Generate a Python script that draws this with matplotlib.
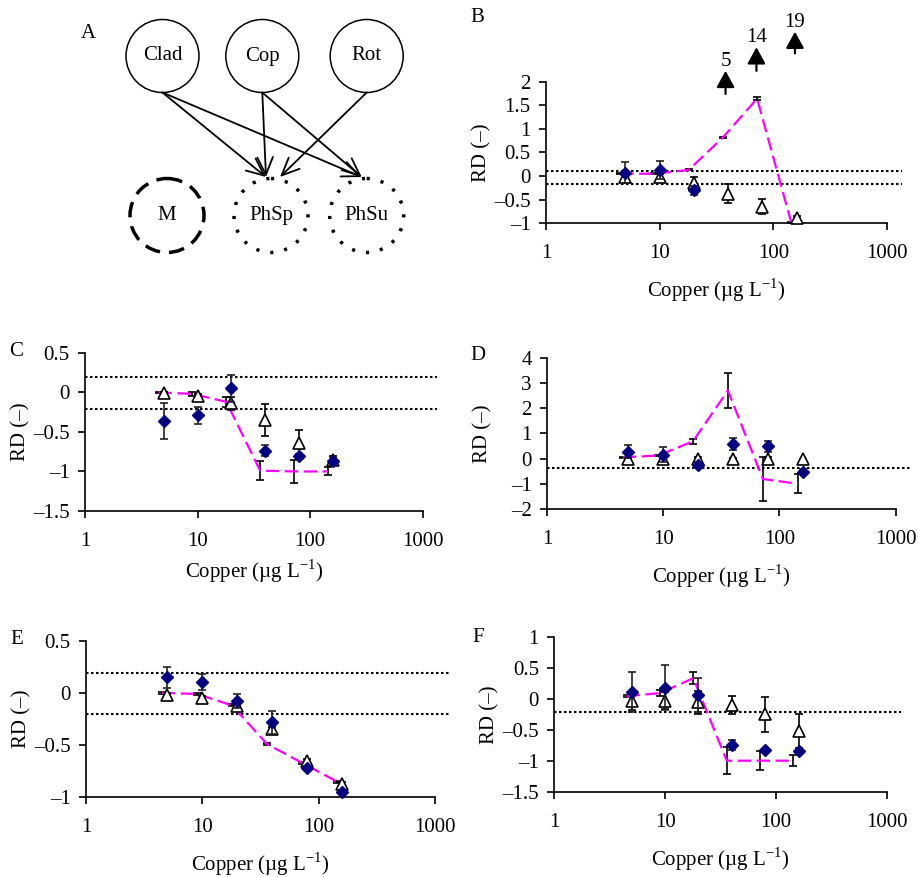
import matplotlib
matplotlib.use('Agg')
import numpy as np
import matplotlib.pyplot as plt
from matplotlib.patches import Circle
from matplotlib.ticker import FuncFormatter, FixedLocator, NullLocator

plt.rcParams['font.family'] = ['Liberation Serif', 'DejaVu Serif']
plt.rcParams['font.size'] = 15
plt.rcParams['mathtext.fontset'] = 'custom'
plt.rcParams['mathtext.rm'] = 'Liberation Serif'

# Concentraciones de cobre (ug/L)
cobre = [5, 10, 20, 40, 80, 160]
cobre_linea = [4.5, 9, 18, 36, 72, 144]

# Panel A: nodos del diagrama
nodos_arriba = ['Clad', 'Cop', 'Rot']
nodos_abajo = ['M', 'PhSp', 'PhSu']
enlaces = [('Clad', 'PhSp'), ('Clad', 'PhSu'), ('Cop', 'PhSp'), ('Cop', 'PhSu'), ('Rot', 'PhSp')]

# Panel B
diam_b = [0.07, 0.13, -0.30, 5, 14, 19]
diam_b_err = [0.22, 0.20, 0.10, 0, 0, 0]
tri_b = [-0.02, -0.02, -0.14, -0.37, -0.65, -0.89]
tri_b_err = [0.06, 0.06, 0.12, 0.20, 0.16, 0.05]
linea_b = [0.05, 0.05, 0.13, 0.82, 1.64, -0.99]
linea_b_err = [0.01, 0.01, 0.01, 0.01, 0.03, 0.01]
limites_b = [0.11, -0.16]
flechas_b_x = [38, 71, 155]
flechas_b_txt = ['5', '14', '19']

# Panel C
diam_c = [-0.36, -0.29, 0.05, -0.74, -0.81, -0.87]
diam_c_err = [0.23, 0.11, 0.17, 0.07, 0.03, 0.05]
tri_c = [-0.01, -0.05, -0.14, -0.35, -0.64, -0.86]
tri_c_err = [0.02, 0.03, 0.08, 0.20, 0.16, 0.05]
linea_c = [0.0, -0.02, -0.12, -0.99, -1.0, -1.0]
linea_c_err = [0.01, 0.02, 0.06, 0.12, 0.14, 0.05]
limites_c = [0.20, -0.21]

# Panel D
diam_d = [0.28, 0.15, -0.25, 0.58, 0.48, -0.52]
diam_d_err = [0.24, 0.30, 0.10, 0.25, 0.23, 0.10]
tri_d = [-0.03, -0.03, -0.02, 0.0, 0.0, -0.02]
tri_d_err = [0.05, 0.10, 0.10, 0.02, 0.05, 0.02]
linea_d = [0.05, 0.12, 0.68, 2.70, -0.81, -1.0]
linea_d_err = [0.02, 0.03, 0.10, 0.68, 0.86, 0.37]
limites_d = [-0.36]

# Panel E
diam_e = [0.15, 0.105, -0.08, -0.28, -0.72, -0.95]
diam_e_err = [0.10, 0.08, 0.065, 0.11, 0.02, 0.01]
tri_e = [-0.02, -0.05, -0.13, -0.35, -0.65, -0.87]
tri_e_err = [0.02, 0.02, 0.02, 0.02, 0.02, 0.02]
linea_e = [0.0, -0.01, -0.12, -0.49, -0.67, -0.85]
linea_e_err = [0.01, 0.01, 0.01, 0.01, 0.01, 0.01]
limites_e = [0.19, -0.20]

# Panel F
diam_f = [0.12, 0.19, 0.07, -0.74, -0.82, -0.83]
diam_f_err = [0.32, 0.36, 0.28, 0.08, 0.02, 0.03]
tri_f = [-0.02, -0.02, -0.05, -0.09, -0.24, -0.51]
tri_f_err = [0.16, 0.14, 0.18, 0.15, 0.28, 0.28]
linea_f = [0.05, 0.10, 0.34, -0.99, -0.99, -0.99]
linea_f_err = [0.02, 0.05, 0.10, 0.22, 0.15, 0.09]
limites_f = [-0.20]

W, H = 918, 877
fig = plt.figure(figsize=(W / 100, H / 100), dpi=100)


def caja(x0, y0, x1, y1):
    # convierte pixeles (arriba-izquierda) a fraccion de figura
    return [x0 / W, 1 - y1 / H, (x1 - x0) / W, (y1 - y0) / H]


def formato(v, pos):
    return ('%g' % v).replace('-', '\u2013')


def en_escala(valores, ylim):
    # los valores fuera de escala no se dibujan (se marcan con flechas)
    v = np.array(valores, dtype=float)
    return np.where((v > ylim[1]) | (v < ylim[0]), np.nan, v)


def generar_panel(caja_px, diam, diam_err, tri, tri_err, linea, linea_err,
                  limites, ylim, yticks, letra, letra_xy, xlabel_off=67):
    x0, y0, x1, y1 = caja_px
    ax = fig.add_axes(caja(x0, y0, x1, y1))
    ax.set_xscale('log')
    ax.set_xlim(1, 1000)
    ax.set_ylim(*ylim)

    # lineas punteadas de referencia
    for lv in limites:
        ax.plot([1, 1350], [lv, lv], color='black', lw=1.5, ls=(0, (1.2, 1.2)),
                clip_on=False, zorder=1)

    ax.errorbar(cobre_linea, en_escala(linea, ylim), yerr=linea_err, color='#FF00FF',
                lw=1.6, dashes=(6, 2.5), ecolor='black', elinewidth=1.2, capsize=3,
                capthick=1.2, zorder=2)
    eb = ax.errorbar(cobre, en_escala(tri, ylim), yerr=tri_err, fmt='^', ms=8,
                     mfc='white', mec='black', mew=1.2, ecolor='black', elinewidth=1.2,
                     capsize=3, capthick=1.2, zorder=3)
    eb[0].set_clip_on(False)
    eb = ax.errorbar(cobre, en_escala(diam, ylim), yerr=diam_err, fmt='D', ms=6.5,
                     mfc='#000080', mec='#000080', ecolor='#222222', elinewidth=1.2,
                     capsize=3, capthick=1.2, zorder=4)
    eb[0].set_clip_on(False)

    for lado in ['top', 'right']:
        ax.spines[lado].set_visible(False)
    for lado in ['left', 'bottom']:
        ax.spines[lado].set_linewidth(1.2)
    ax.xaxis.set_major_locator(FixedLocator([1, 10, 100, 1000]))
    ax.xaxis.set_minor_locator(NullLocator())
    ax.set_xticklabels(['1', '10', '100', '1000'])
    ax.set_yticks(yticks)
    ax.yaxis.set_major_formatter(FuncFormatter(formato))
    ax.tick_params(axis='both', direction='out', length=5, width=1.2)
    ax.tick_params(axis='x', pad=10)
    ax.tick_params(axis='y', pad=6)

    ancho = x1 - x0
    alto = y1 - y0
    ax.set_ylabel('RD (\u2013)')
    ax.yaxis.set_label_coords(-55 / ancho, 0.5)
    ax.set_xlabel('Copper (\u00b5g L$^{\\mathregular{-1}}$)', va='center')
    ax.xaxis.set_label_coords(0.5, -xlabel_off / alto)
    fig.text(letra_xy[0] / W, 1 - letra_xy[1] / H, letra, ha='center', va='center')
    return ax


# Panel A: diagrama de la red trofica
ax_a = fig.add_axes(caja(0, 0, 460, 290))
ax_a.set_xlim(0, 460)
ax_a.set_ylim(290, 0)
ax_a.axis('off')
centros = {'Clad': (162.5, 56), 'Cop': (262.3, 56), 'Rot': (366.7, 56),
           'M': (167, 215.5), 'PhSp': (271, 215.5), 'PhSu': (366.7, 215.5)}
estilos = {'M': (0, (4.5, 2.6)), 'PhSp': (0, (0.9, 3.2)), 'PhSu': (0, (0.9, 3.2))}
for nombre in nodos_arriba:
    ax_a.add_patch(Circle(centros[nombre], 36.5, fill=False, lw=1.1, ec='black'))
    ax_a.text(*centros[nombre], nombre, ha='center', va='center')
for nombre in nodos_abajo:
    ax_a.add_patch(Circle(centros[nombre], 37, fill=False, lw=2.5, ec='black',
                          ls=estilos[nombre]))
    ax_a.text(*centros[nombre], nombre, ha='center', va='center')
for origen, destino in enlaces:
    sx, sy = centros[origen]
    tx, ty = centros[destino]
    dx = 9 if sx > tx + 20 else -5
    ax_a.annotate('', xy=(tx + dx, ty - 38.5), xytext=(sx, sy + 36.5),
                  arrowprops=dict(arrowstyle='->,head_length=0.9,head_width=0.4',
                                  mutation_scale=14, lw=1.3, color='black',
                                  shrinkA=0, shrinkB=0))
fig.text(88 / W, 1 - 33 / H, 'A', ha='center', va='center')

# Panel B
ax_b = generar_panel((546, 81.7, 887, 223.3), diam_b, diam_b_err, tri_b, tri_b_err,
                     linea_b, linea_b_err, limites_b, (-1, 2),
                     [-1, -0.5, 0, 0.5, 1, 1.5, 2], 'B', (477, 17))
# valores fuera de escala: flechas
bases = [1.74, 2.23, 2.60]
puntas = [2.23, 2.73, 3.06]
for fx, txt, y0, y1 in zip(flechas_b_x, flechas_b_txt, bases, puntas):
    ax_b.annotate('', xy=(fx, y1), xytext=(fx, y0), annotation_clip=False,
                  arrowprops=dict(arrowstyle='-|>,head_length=1.0,head_width=0.55',
                                  mutation_scale=10, lw=1.6, color='black',
                                  shrinkA=0, shrinkB=0))
    ax_b.text(fx, y1 + 0.2, txt, ha='center', va='center', clip_on=False)

# Panel C
generar_panel((85, 352.8, 422.7, 511), diam_c, diam_c_err, tri_c, tri_c_err,
              linea_c, linea_c_err, limites_c, (-1.5, 0.5),
              [-1.5, -1, -0.5, 0, 0.5], 'C', (16, 352), xlabel_off=60)

# Panel D
generar_panel((547, 357.7, 895.7, 509), diam_d, diam_d_err, tri_d, tri_d_err,
              linea_d, linea_d_err, limites_d, (-2, 4),
              [-2, -1, 0, 1, 2, 3, 4], 'D', (478, 356))

# Panel E
generar_panel((86, 640.7, 435, 797.3), diam_e, diam_e_err, tri_e, tri_e_err,
              linea_e, linea_e_err, limites_e, (-1, 0.5),
              [-1, -0.5, 0, 0.5], 'E', (17, 640))

# Panel F
generar_panel((554.3, 637.3, 886.7, 792.3), diam_f, diam_f_err, tri_f, tri_f_err,
              linea_f, linea_f_err, limites_f, (-1.5, 1),
              [-1.5, -1, -0.5, 0, 0.5, 1], 'F', (478, 637))

fig.savefig('out.png', dpi=100)
